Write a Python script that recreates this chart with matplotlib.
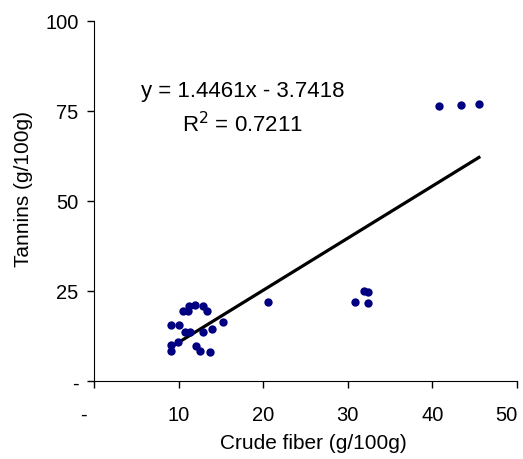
import matplotlib
matplotlib.use("Agg")
import matplotlib.pyplot as plt
import matplotlib.transforms as mtransforms
import numpy as np

plt.rcParams['font.family'] = ['Liberation Sans', 'DejaVu Sans']

# Data
crude_fiber = [9.05, 10.1, 10.5, 11.2, 11.9, 11.1, 12.9, 13.3, 10.7, 11.4,
               12.9, 13.9, 15.2, 9.05, 9.1, 9.9, 12.0, 12.5, 13.7, 20.6,
               31.9, 32.35, 30.8, 32.35, 40.8, 43.4, 45.5]
tannins = [15.6, 15.6, 19.4, 20.9, 21.1, 19.5, 20.9, 19.4, 13.5, 13.7,
           13.5, 14.3, 16.3, 10.0, 8.25, 10.75, 9.8, 8.3, 8.05, 22.0,
           24.9, 24.6, 21.9, 21.7, 76.3, 76.6, 76.9]

slope = 1.4461
intercept = -3.7418

x_ticks = [0, 10, 20, 30, 40, 50]
x_tick_labels = ['-', '10', '20', '30', '40', '50']
y_ticks = [0, 25, 50, 75, 100]
y_tick_labels = ['-', '25', '50', '75', '100']

fig = plt.figure(figsize=(5.23, 4.6), dpi=100)
ax = fig.add_axes([0.1797, 0.1696, 0.8088, 0.7832])

ax.scatter(crude_fiber, tannins, s=36, color='#000080', zorder=3, linewidths=0)

# Trendline over the data range
xs = np.array([min(crude_fiber), max(crude_fiber)])
ax.plot(xs, slope * xs + intercept, color='black', linewidth=2.3, zorder=2)

ax.text(17.6, 80.6, 'y = 1.4461x - 3.7418', ha='center', va='center', fontsize=16)
ax.text(17.6, 71.4, 'R$^2$ = 0.7211', ha='center', va='center', fontsize=16)

ax.set_xlim(0, 50)
ax.set_ylim(0, 100)
ax.set_xticks(x_ticks)
ax.set_xticklabels(x_tick_labels, fontsize=14.5)
ax.set_yticks(y_ticks)
ax.set_yticklabels(y_tick_labels, fontsize=14.5)
ax.tick_params(direction='out', length=5, width=1)
ax.tick_params(axis='x', pad=12)
ax.tick_params(axis='y', pad=6)

# Excel-like placement of the end labels
xlabels = ax.get_xticklabels()
xlabels[0].set_transform(xlabels[0].get_transform() +
                         mtransforms.ScaledTranslation(-11 / 100, 0, fig.dpi_scale_trans))
xlabels[-1].set_horizontalalignment('right')
xlabels[-1].set_transform(xlabels[-1].get_transform() +
                          mtransforms.ScaledTranslation(1 / 100, 0, fig.dpi_scale_trans))

for side in ['top', 'right']:
    ax.spines[side].set_visible(False)

ax.set_xlabel('Crude fiber (g/100g)', fontsize=15, labelpad=9)
ax.set_ylabel('Tannins (g/100g)', fontsize=15)
ax.xaxis.set_label_coords(0.518, -0.145)
ax.yaxis.set_label_coords(-0.144, 0.536)

fig.savefig('out.png', dpi=100)
